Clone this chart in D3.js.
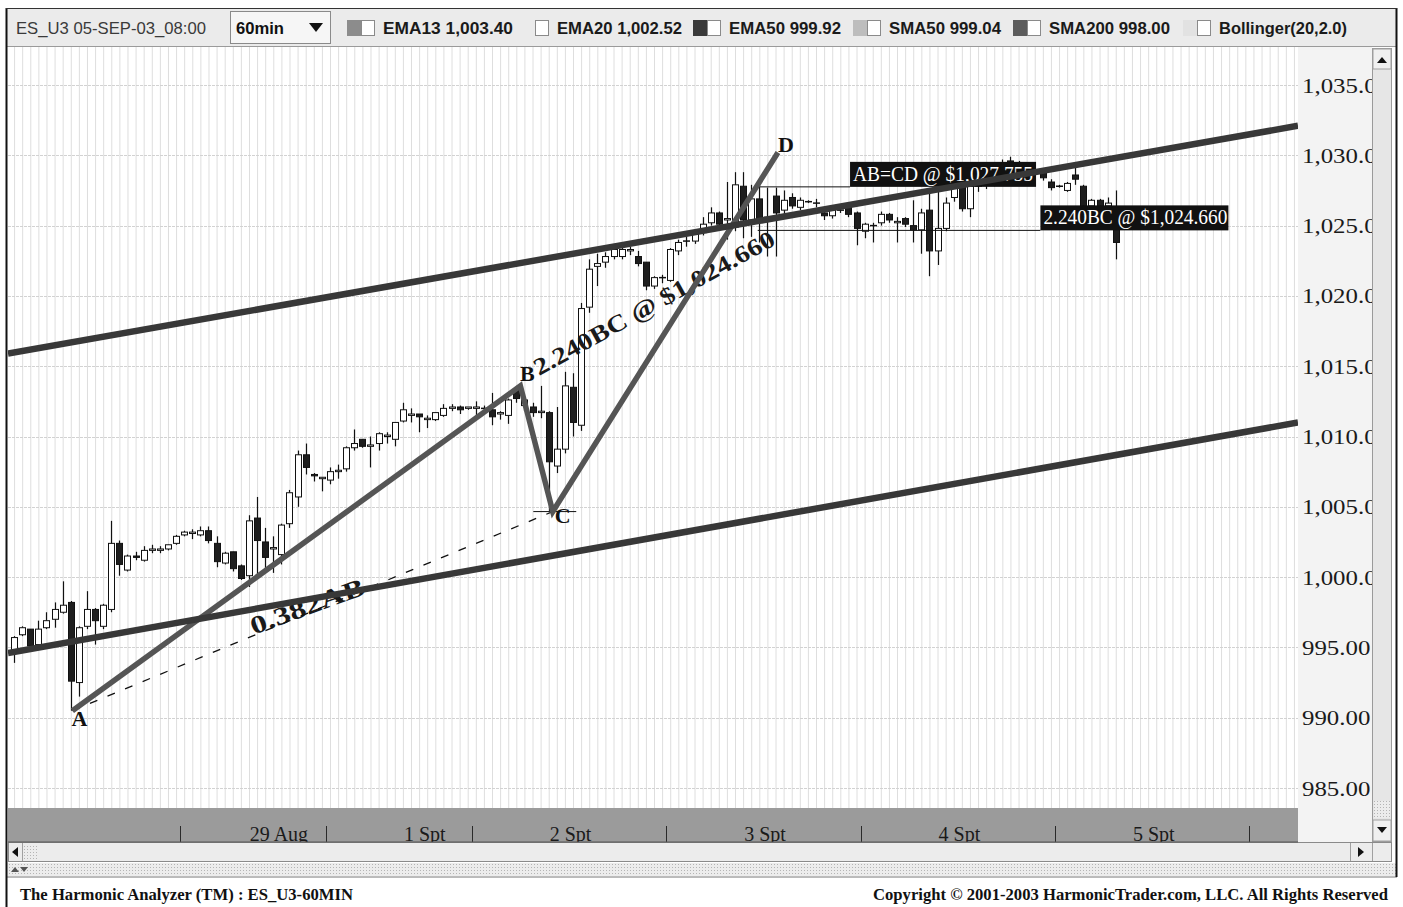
<!DOCTYPE html>
<html lang="en">
<head>
<meta charset="UTF-8">
<title>ES_U3 60min - Harmonic Analyzer</title>
<script src="https://d3js.org/d3.v7.min.js"></script>
<style>
  body { margin: 0; background: #fff; }
  svg { display: block; }
</style>
</head>
<body>
<script>
// ---- values (hourly bars, index 0 = first bar on screen) ----
const open = [994.8,995.9,996.3,995.2,996.4,997.0,997.5,998.2,992.5,996.5,
  997.7,996.5,997.7,1002.4,1000.5,1001.5,1001.2,1001.9,1001.9,1002.0,
  1002.4,1003.0,1003.1,1003.0,1003.3,1002.4,1001.0,1001.8,1000.8,1000.1,
  1004.2,1002.5,1002.0,1001.6,1003.8,1005.7,1008.7,1007.3,1007.0,1006.9,
  1007.5,1007.7,1009.2,1009.8,1009.3,1009.5,1010.0,1009.8,1011.1,1011.5,
  1011.6,1011.2,1011.2,1011.5,1012.0,1012.1,1012.0,1012.0,1012.0,1011.9,
  1011.6,1011.5,1013.3,1012.2,1012.1,1011.7,1011.7,1007.9,1009.1,1013.5,
  1010.8,1019.2,1022.1,1022.4,1022.8,1022.8,1023.2,1022.8,1022.4,1020.7,
  1021.3,1021.1,1023.2,1023.9,1023.9,1024.5,1025.2,1025.9,1025.4,1024.9,
  1027.8,1025.4,1026.9,1025.5,1027.1,1026.1,1027.0,1026.3,1026.7,1026.6,
  1025.9,1025.7,1026.1,1026.4,1025.9,1024.6,1025.0,1025.2,1025.8,1025.2,
  1025.5,1025.0,1024.7,1026.1,1023.2,1024.8,1027.0,1027.8,1026.2,1028.3,
  1027.9,1028.6,1028.3,1029.6,1028.8,1029.0,1028.8,1028.8,1028.1,1027.8,
  1027.5,1028.6,1027.8,1026.4,1026.8,1026.4,1025.4];
const high = [995.8,996.5,996.3,996.9,997.5,998.2,999.7,998.3,996.5,999.0,
  997.8,998.1,1004.0,1002.6,1001.6,1001.8,1002.2,1002.3,1002.2,1002.3,
  1003.0,1003.3,1003.4,1003.6,1003.6,1002.9,1001.8,1001.8,1000.9,1004.4,
  1005.7,1003.5,1002.9,1003.8,1006.2,1009.0,1009.5,1007.4,1007.1,1007.8,
  1008.0,1009.3,1010.5,1009.8,1010.0,1010.3,1010.3,1011.0,1012.4,1012.0,
  1011.6,1011.5,1011.7,1012.3,1012.3,1012.2,1012.1,1012.5,1012.2,1013.1,
  1011.8,1012.7,1013.6,1012.9,1012.4,1013.6,1011.8,1012.1,1014.6,1014.5,
  1019.5,1022.6,1023.0,1023.1,1023.5,1023.6,1023.5,1023.2,1022.4,1021.4,
  1021.5,1023.4,1024.0,1024.2,1024.6,1025.6,1026.3,1026.0,1028.1,1028.8,
  1028.8,1027.9,1028.3,1027.7,1027.7,1027.5,1027.3,1027.0,1026.8,1026.9,
  1026.2,1026.2,1026.3,1026.5,1026.0,1025.2,1025.2,1026.0,1025.9,1025.6,
  1025.6,1026.8,1026.2,1027.5,1027.4,1027.0,1028.5,1028.5,1029.0,1029.0,
  1029.4,1029.0,1029.7,1029.9,1029.6,1029.3,1029.0,1029.0,1028.3,1027.9,
  1028.1,1029.3,1027.9,1026.9,1026.9,1027.0,1027.5];
const low = [993.9,995.8,995.0,995.1,996.3,996.4,997.4,990.5,991.5,996.3,
  995.2,996.3,997.5,1000.1,1000.4,1001.2,1001.1,1001.7,1001.7,1001.9,
  1002.3,1002.9,1002.7,1002.9,1002.4,1000.7,1000.9,1000.4,999.8,999.3,
  1000.1,1000.5,1000.3,1000.9,1003.5,1005.0,1007.3,1006.8,1006.1,1006.6,
  1007.0,1007.5,1009.0,1009.2,1007.8,1009.0,1009.5,1009.3,1011.0,1011.0,
  1010.3,1010.6,1011.1,1011.4,1011.8,1011.6,1011.9,1011.4,1011.8,1010.8,
  1011.2,1010.9,1012.4,1011.8,1011.4,1011.3,1004.7,1007.4,1008.8,1010.0,
  1010.4,1018.8,1020.7,1022.0,1022.6,1022.6,1022.9,1022.1,1020.4,1020.5,
  1020.9,1021.0,1022.9,1023.5,1023.7,1024.3,1025.0,1024.9,1024.0,1024.6,
  1024.1,1024.2,1023.8,1022.8,1022.8,1025.5,1026.2,1026.1,1026.6,1026.3,
  1025.4,1025.5,1025.9,1025.6,1023.6,1024.1,1023.8,1025.0,1025.2,1023.8,
  1024.9,1023.8,1023.0,1021.4,1022.2,1024.6,1026.7,1026.0,1025.6,1027.4,
  1027.6,1027.8,1028.0,1028.6,1028.5,1028.3,1028.6,1028.2,1027.5,1027.7,
  1027.4,1027.9,1026.2,1026.3,1026.2,1026.3,1022.6];
const close = [995.7,996.4,995.1,996.3,996.9,997.7,998.0,992.6,996.4,997.7,
  996.9,998.0,1002.4,1000.9,1001.5,1001.4,1001.9,1002.0,1002.0,1002.3,
  1002.9,1003.2,1003.2,1003.3,1002.6,1001.1,1001.7,1000.6,999.9,1004.0,
  1002.6,1001.4,1002.1,1003.7,1006.0,1008.7,1007.8,1007.2,1007.1,1007.5,
  1007.6,1009.2,1009.5,1009.3,1009.4,1010.2,1010.1,1011.0,1011.9,1011.6,
  1011.4,1011.3,1011.7,1012.0,1012.1,1011.9,1012.1,1012.1,1012.0,1011.4,
  1011.7,1012.6,1012.7,1012.6,1011.7,1011.8,1008.2,1009.1,1013.6,1011.0,
  1019.1,1021.9,1022.3,1022.8,1023.3,1023.3,1023.3,1022.3,1020.7,1021.3,
  1021.3,1023.3,1023.8,1023.9,1024.4,1025.1,1025.9,1025.1,1025.5,1027.9,
  1025.4,1026.9,1025.2,1025.6,1025.9,1026.8,1026.4,1026.8,1026.7,1026.6,
  1025.7,1026.1,1026.1,1025.8,1024.8,1025.1,1025.0,1025.8,1025.4,1025.3,
  1025.1,1024.7,1025.9,1023.2,1024.8,1026.6,1027.8,1026.2,1027.8,1027.8,
  1028.6,1028.2,1029.3,1029.2,1029.3,1028.6,1028.8,1028.4,1027.7,1027.8,
  1028.0,1028.3,1026.4,1026.8,1026.4,1026.6,1023.8];

// session labels and the bar index each one starts at
const days = ["29 Aug", "1 Spt", "2 Spt", "3 Spt", "4 Spt", "5 Spt"];
const dayStart = [21, 39, 57, 81, 105, 129];
const lastDayEnd = 153;

const priceTicks = [985, 990, 995, 1000, 1005, 1010, 1015, 1020, 1025, 1030, 1035];

// toolbar indicators
const legendNames = ["EMA13", "EMA20", "EMA50", "SMA50", "SMA200", "Bollinger(20,2.0)"];
const legendValues = ["1,003.40", "1,002.52", "999.92", "999.04", "998.00", ""];

// harmonic pattern points (bar index, price)
const patternNames = ["A", "B", "C", "D"];
const patternBar = [7.2, 62.5, 66.5, 94.3];
const patternPrice = [990.5, 1013.6, 1004.66, 1030.2];

// channel lines: [bar, price] at both ends
const upperChannel = [[-0.75, 1015.9], [158.5, 1032.1]];
const lowerChannel = [[-0.75, 994.6], [158.5, 1011.0]];

// projected levels
const levelNames = ["AB=CD @ $1,027.755", "2.240BC @ $1,024.660"];
const levelPrice = [1027.755, 1024.66];
const levelFrom = [91.8, 91.8];
const levelTo = [103.2, 126.7];

// ---- layout ----
const W = 1403, H = 907;
const plot = { left: 8, right: 1298, top: 47, bottom: 808 };
const serif = "'Liberation Serif', 'Times New Roman', serif";
const sans = "'Liberation Sans Narrow', 'Liberation Sans', Arial, sans-serif";

const svg = d3.select("body").append("svg")
    .attr("width", W).attr("height", H)
    .style("font-family", serif);

const x = d3.scaleLinear().domain([-0.75, 158.5]).range([plot.left, plot.right]);
const y = d3.scaleLinear().domain([985, 1035]).range([788, 85]);

const bars = open.map((o, i) => ({ i, o, h: high[i], l: low[i], c: close[i] }));

const defs = svg.append("defs");
defs.append("clipPath").attr("id", "plotClip").append("rect")
    .attr("x", plot.left).attr("y", plot.top)
    .attr("width", plot.right - plot.left).attr("height", plot.bottom - plot.top);
defs.append("clipPath").attr("id", "axisClip").append("rect")
    .attr("x", plot.right).attr("y", plot.top).attr("width", 74).attr("height", plot.bottom - plot.top);
defs.append("clipPath").attr("id", "bandClip").append("rect")
    .attr("x", plot.left).attr("y", plot.bottom).attr("width", plot.right - plot.left).attr("height", 34);
const dots = defs.append("pattern").attr("id", "dots")
    .attr("width", 3).attr("height", 3).attr("patternUnits", "userSpaceOnUse");
dots.append("rect").attr("width", 3).attr("height", 3).attr("fill", "#ececec");
dots.append("rect").attr("width", 1).attr("height", 1).attr("fill", "#b4b4b4");

// stretch a text node horizontally after measuring it
function stretch(sel, k) {
  sel.each(function () {
    const w = this.getComputedTextLength();
    d3.select(this).attr("textLength", w * k).attr("lengthAdjust", "spacingAndGlyphs");
  });
}

/* frame and toolbar */
svg.append("rect").attr("width", W).attr("height", H).attr("fill", "#fff");
svg.append("rect").attr("x", 6).attr("y", 8).attr("width", 1391).attr("height", 39).attr("fill", "#ebebeb");
svg.append("line").attr("x1", 6).attr("x2", 1397).attr("y1", 46.5).attr("y2", 46.5).attr("stroke", "#9a9a9a");

svg.append("text").attr("x", 16).attr("y", 34)
    .attr("font-family", sans).attr("font-size", 17).attr("fill", "#3a3a3a")
    .attr("textLength", 190).attr("lengthAdjust", "spacingAndGlyphs")
    .text("ES_U3 05-SEP-03_08:00");

// interval drop-down
svg.append("rect").attr("x", 230.5).attr("y", 11.5).attr("width", 100).attr("height", 32)
    .attr("fill", "#f6f6f6").attr("stroke", "#8a8a8a");
svg.append("text").attr("x", 236).attr("y", 34)
    .attr("font-family", sans).attr("font-size", 17).attr("font-weight", "bold").attr("fill", "#111")
    .attr("textLength", 48).attr("lengthAdjust", "spacingAndGlyphs").text("60min");
svg.append("path").attr("d", "M309,23 L323,23 L316,32 Z").attr("fill", "#111");

const legendX = [347, 521, 693, 853, 1013, 1183];
const legendTextW = [130, 125, 112, 112, 121, 128];
const swatchFill = ["#8c8c8c", "#ebebeb", "#3a3a3a", "#bdbdbd", "#5c5c5c", "#e2e2e2"];
const legend = svg.append("g").selectAll("g")
    .data(legendNames)
    .join("g")
    .attr("transform", (d, i) => `translate(${legendX[i]},0)`);
legend.append("rect").attr("x", 0).attr("y", 20).attr("width", 14).attr("height", 16)
    .attr("fill", (d, i) => swatchFill[i]);
legend.append("rect").attr("x", 14.5).attr("y", 20.5).attr("width", 13).attr("height", 15)
    .attr("fill", "#fff").attr("stroke", "#8a8a8a");
legend.append("text").attr("x", 36).attr("y", 34)
    .attr("font-family", sans).attr("font-size", 17).attr("font-weight", "bold").attr("fill", "#1a1a1a")
    .attr("textLength", (d, i) => legendTextW[i]).attr("lengthAdjust", "spacingAndGlyphs")
    .text((d, i) => legendValues[i] ? `${d} ${legendValues[i]}` : d);

/* right axis panel and scrollbars */
svg.append("rect").attr("x", plot.right).attr("y", plot.top).attr("width", 74).attr("height", 796).attr("fill", "#f3f3f3");
svg.append("rect").attr("x", 1372.5).attr("y", 48.5).attr("width", 19).attr("height", 793)
    .attr("fill", "#e6e6e6").attr("stroke", "#9a9a9a");
svg.append("rect").attr("x", 1373).attr("y", 49).attr("width", 18).attr("height", 20).attr("fill", "#f0f0f0").attr("stroke", "#a0a0a0");
svg.append("path").attr("d", "M1377,63 L1387,63 L1382,57 Z").attr("fill", "#111");
svg.append("rect").attr("x", 1374).attr("y", 801).attr("width", 16).attr("height", 17).attr("fill", "url(#dots)");
svg.append("rect").attr("x", 1373).attr("y", 820).attr("width", 18).attr("height", 21).attr("fill", "#f0f0f0").attr("stroke", "#a0a0a0");
svg.append("path").attr("d", "M1377,827 L1387,827 L1382,833 Z").attr("fill", "#111");

svg.append("rect").attr("x", 8.5).attr("y", 842.5).attr("width", 1383).attr("height", 19)
    .attr("fill", "#ececec").attr("stroke", "#8a8a8a");
svg.append("path").attr("d", "M12,852 L18,847 L18,857 Z").attr("fill", "#111");
svg.append("rect").attr("x", 24).attr("y", 844).attr("width", 13).attr("height", 16).attr("fill", "url(#dots)");
svg.append("line").attr("x1", 22.5).attr("x2", 22.5).attr("y1", 843).attr("y2", 861).attr("stroke", "#a0a0a0");
svg.append("line").attr("x1", 1350.5).attr("x2", 1350.5).attr("y1", 843).attr("y2", 861).attr("stroke", "#a0a0a0");
svg.append("line").attr("x1", 1372.5).attr("x2", 1372.5).attr("y1", 843).attr("y2", 861).attr("stroke", "#a0a0a0");
svg.append("path").attr("d", "M1364,852 L1358,847 L1358,857 Z").attr("fill", "#111");

svg.append("rect").attr("x", 7).attr("y", 863).attr("width", 1390).attr("height", 13).attr("fill", "url(#dots)");
svg.append("path").attr("d", "M11,872 L15,867 L19,872 Z M20,867 L28,867 L24,872 Z").attr("fill", "#555");
svg.append("line").attr("x1", 6).attr("x2", 1397).attr("y1", 877).attr("y2", 877).attr("stroke", "#777");

/* plot background and grid */
svg.append("rect").attr("x", plot.left).attr("y", plot.top)
    .attr("width", plot.right - plot.left).attr("height", plot.bottom - plot.top).attr("fill", "#fff");

const grid = svg.append("g").attr("clip-path", "url(#plotClip)");
grid.selectAll("line.v")
    .data(d3.range(0, 159))
    .join("line").attr("class", "v")
    .attr("x1", d => x(d) + 0.5).attr("x2", d => x(d) + 0.5)
    .attr("y1", plot.top).attr("y2", plot.bottom)
    .attr("stroke", "#dedede").attr("stroke-width", 1);
grid.selectAll("line.h")
    .data(priceTicks)
    .join("line").attr("class", "h")
    .attr("x1", plot.left).attr("x2", plot.right)
    .attr("y1", d => Math.round(y(d)) + 0.5).attr("y2", d => Math.round(y(d)) + 0.5)
    .attr("stroke", "#d2d2d2").attr("stroke-dasharray", "3,1");

/* candles */
const candles = svg.append("g").attr("clip-path", "url(#plotClip)")
    .selectAll("g").data(bars).join("g");
candles.append("line")
    .attr("x1", d => Math.round(x(d.i)) + 0.5).attr("x2", d => Math.round(x(d.i)) + 0.5)
    .attr("y1", d => y(d.h)).attr("y2", d => y(d.l))
    .attr("stroke", "#111").attr("stroke-width", 1.2);
candles.filter(d => Math.abs(d.o - d.c) >= 0.08).append("rect")
    .attr("x", d => Math.round(x(d.i)) - 2.5)
    .attr("y", d => y(Math.max(d.o, d.c)))
    .attr("width", 6)
    .attr("height", d => Math.max(1, y(Math.min(d.o, d.c)) - y(Math.max(d.o, d.c))))
    .attr("fill", d => d.c > d.o ? "#fff" : "#1e1e1e")
    .attr("stroke", "#111").attr("stroke-width", 1);
candles.filter(d => Math.abs(d.o - d.c) < 0.08).append("line")
    .attr("x1", d => Math.round(x(d.i)) - 3).attr("x2", d => Math.round(x(d.i)) + 4)
    .attr("y1", d => y(d.c)).attr("y2", d => y(d.c))
    .attr("stroke", "#111").attr("stroke-width", 1.5);

/* annotations */
const ann = svg.append("g").attr("clip-path", "url(#plotClip)");

// projected price levels with boxed labels
ann.selectAll("line.level")
    .data(levelNames)
    .join("line").attr("class", "level")
    .attr("x1", (d, i) => x(levelFrom[i])).attr("x2", (d, i) => x(levelTo[i]))
    .attr("y1", (d, i) => y(levelPrice[i])).attr("y2", (d, i) => y(levelPrice[i]))
    .attr("stroke", "#111").attr("stroke-width", 1);
const boxW = [186, 188];
const boxTextW = [180, 184];
ann.selectAll("rect.levelBox")
    .data(levelNames)
    .join("rect").attr("class", "levelBox")
    .attr("x", (d, i) => x(levelTo[i])).attr("y", (d, i) => y(levelPrice[i]) - 25)
    .attr("width", (d, i) => boxW[i]).attr("height", 25)
    .attr("fill", "#111");
ann.selectAll("text.levelText")
    .data(levelNames)
    .join("text").attr("class", "levelText")
    .attr("x", (d, i) => x(levelTo[i]) + 3).attr("y", (d, i) => y(levelPrice[i]) - 6)
    .attr("font-size", 20).attr("fill", "#fff")
    .attr("textLength", (d, i) => boxTextW[i]).attr("lengthAdjust", "spacingAndGlyphs")
    .text(d => d);

// rotated ratio labels
ann.append("text")
    .attr("transform", `translate(${x(64.8)},${y(1014.3)}) rotate(-29)`)
    .attr("font-size", 24).attr("font-weight", "bold").attr("fill", "#1a1a1a")
    .attr("textLength", 272).attr("lengthAdjust", "spacingAndGlyphs")
    .text("2.240BC @ $1,024.660");
ann.append("text")
    .attr("transform", `translate(${x(29.6)},${y(995.9)}) rotate(-20)`)
    .attr("font-size", 25).attr("font-weight", "bold").attr("fill", "#1a1a1a")
    .attr("textLength", 120).attr("lengthAdjust", "spacingAndGlyphs")
    .text("0.382AB");

// A to C dashed retracement
ann.append("line")
    .attr("x1", x(patternBar[0])).attr("y1", y(patternPrice[0]))
    .attr("x2", x(patternBar[2])).attr("y2", y(patternPrice[2]))
    .attr("stroke", "#111").attr("stroke-width", 1.3).attr("stroke-dasharray", "8,11");
ann.append("line")
    .attr("x1", x(64.1)).attr("x2", x(69.4))
    .attr("y1", y(patternPrice[2])).attr("y2", y(patternPrice[2]))
    .attr("stroke", "#111").attr("stroke-width", 1);

// A-B-C-D legs
const leg = d3.line().x(d => x(d[0])).y(d => y(d[1]));
ann.append("path")
    .datum(patternBar.map((b, i) => [b, patternPrice[i]]))
    .attr("d", leg)
    .attr("fill", "none").attr("stroke", "#555").attr("stroke-width", 5.5)
    .attr("stroke-linejoin", "miter");

// channel lines
ann.selectAll("path.channel")
    .data([upperChannel, lowerChannel])
    .join("path").attr("class", "channel")
    .attr("d", leg)
    .attr("fill", "none").attr("stroke", "#383838").attr("stroke-width", 6.5);

// point letters
const letterDx = [7, 7, 10, 8];
const letterDy = [15, -5, 11, 0];
ann.selectAll("text.pt")
    .data(patternNames)
    .join("text").attr("class", "pt")
    .attr("x", (d, i) => x(patternBar[i]) + letterDx[i])
    .attr("y", (d, i) => y(patternPrice[i]) + letterDy[i])
    .attr("text-anchor", "middle")
    .attr("font-size", 22).attr("font-weight", "bold").attr("fill", "#111")
    .text(d => d);

/* price axis on the right, clipped by the scrollbar */
const axisWrap = svg.append("g").attr("clip-path", "url(#axisClip)");
const axis = axisWrap.append("g")
    .attr("transform", `translate(${plot.right},0)`)
    .call(d3.axisRight(y).tickValues(priceTicks).tickFormat(d3.format(",.2f")).tickSize(0).tickPadding(4));
axis.select(".domain").remove();
axis.selectAll("text")
    .attr("font-family", serif).attr("font-size", 22).attr("fill", "#1a1a1a")
    .call(stretch, 1.13);

/* date band */
svg.append("rect").attr("x", plot.left).attr("y", plot.bottom)
    .attr("width", plot.right - plot.left).attr("height", 34).attr("fill", "#9b9b9b");
const band = svg.append("g").attr("clip-path", "url(#bandClip)");
band.selectAll("line")
    .data(dayStart.concat([lastDayEnd]))
    .join("line")
    .attr("x1", d => Math.round(x(d - 0.5)) + 0.5).attr("x2", d => Math.round(x(d - 0.5)) + 0.5)
    .attr("y1", 826).attr("y2", 842)
    .attr("stroke", "#2a2a2a");
band.selectAll("text")
    .data(days)
    .join("text")
    .attr("x", (d, i) => x(dayStart[i] + 11.7))
    .attr("y", 841)
    .attr("text-anchor", "middle")
    .attr("font-size", 20).attr("fill", "#1a1a1a")
    .text(d => d);
svg.append("line").attr("x1", plot.left).attr("x2", plot.right).attr("y1", 842).attr("y2", 842).attr("stroke", "#555");

/* outer border */
svg.append("line").attr("x1", 6.5).attr("x2", 6.5).attr("y1", 8).attr("y2", H).attr("stroke", "#111").attr("stroke-width", 2);
svg.append("line").attr("x1", 1396.5).attr("x2", 1396.5).attr("y1", 8).attr("y2", 877).attr("stroke", "#111").attr("stroke-width", 2);
svg.append("line").attr("x1", 6).attr("x2", 1397).attr("y1", 8.5).attr("y2", 8.5).attr("stroke", "#333").attr("stroke-width", 1);

/* footer */
svg.append("text").attr("x", 20).attr("y", 900)
    .attr("font-size", 16).attr("font-weight", "bold").attr("fill", "#111")
    .attr("textLength", 333).attr("lengthAdjust", "spacingAndGlyphs")
    .text("The Harmonic Analyzer (TM) : ES_U3-60MIN");
svg.append("text").attr("x", 873).attr("y", 900)
    .attr("font-size", 16).attr("font-weight", "bold").attr("fill", "#111")
    .attr("textLength", 515).attr("lengthAdjust", "spacingAndGlyphs")
    .text("Copyright © 2001-2003 HarmonicTrader.com, LLC. All Rights Reserved");
</script>
</body>
</html>
